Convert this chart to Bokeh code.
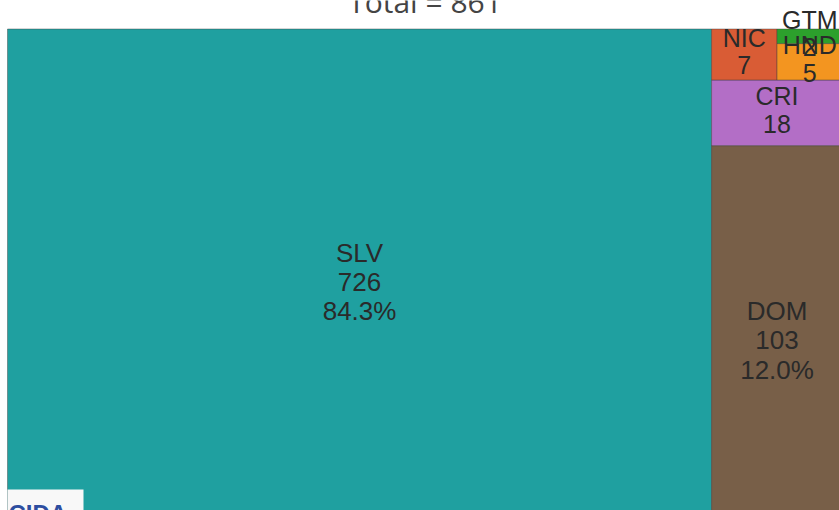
from bokeh.plotting import figure
from bokeh.models import ColumnDataSource, Range1d
from bokeh.core.properties import value
from bokeh.embed import file_html
from bokeh.resources import INLINE

# ---- data ----
categories = ["SLV", "DOM", "CRI", "NIC", "HND", "GTM"]
counts = [726, 103, 18, 7, 5, 2]
colors = ["#1fa0a0", "#785f48", "#b36ec6", "#d95c35", "#f39520", "#2ca02c"]
logo_text = "CIDA"

total = sum(counts)
title_text = f"Total = {total}"

# ---- layout geometry (figure pixel space, y downward) ----
W, H = 839, 510
TM_X0, TM_Y0, TM_W, TM_H = 7.0, 28.5, 835.0, 492.0
split_dirs = ["h", "v", "v", "h", "v"]


def layout(vals, x0, y0, x1, y1, dirs):
    out = []
    for i, v in enumerate(vals):
        rest = sum(vals[i:])
        if i == len(vals) - 1:
            out.append((x0, y0, x1, y1))
            break
        if dirs[i] == "h":
            w = (x1 - x0) * v / rest
            out.append((x0, y0, x0 + w, y1))
            x0 += w
        else:
            h = (y1 - y0) * v / rest
            out.append((x0, y1 - h, x1, y1))
            y1 -= h
    return out


rects = layout(counts, TM_X0, TM_Y0, TM_X0 + TM_W, TM_Y0 + TM_H, split_dirs)

labels, lx, ly, sizes = [], [], [], []
for c, v, (l, t, r, b) in zip(categories, counts, rects):
    share = v / total
    if share >= 0.1:
        labels.append(f"{c}\n{v}\n{share * 100:.1f}%")
        ly.append((t + b) / 2 + 7)
        sizes.append("26px")
    else:
        labels.append(f"{c}\n{v}")
        ly.append((t + b) / 2 - 3)
        sizes.append("25px")
    lx.append((l + r) / 2)

src = ColumnDataSource(dict(
    left=[r[0] for r in rects], top=[r[1] for r in rects],
    right=[r[2] for r in rects], bottom=[r[3] for r in rects],
    color=colors, label=labels, lx=lx, ly=ly, size=sizes,
))

p = figure(width=W, height=H, x_range=Range1d(0, W), y_range=Range1d(H, 0),
           output_backend="svg", toolbar_location=None, min_border=0)
p.axis.visible = False
p.grid.visible = False
p.outline_line_color = None
p.background_fill_color = "white"
p.border_fill_color = "white"

p.quad(left="left", right="right", top="top", bottom="bottom", source=src,
       fill_color="color", line_color="#3a3a3a", line_width=0.6, line_alpha=0.7)

p.text(x="lx", y="ly", text="label", source=src, text_align="center",
       text_baseline="middle", text_font=value("Liberation Sans"),
       text_font_size="size", text_color="#2a2a2a", text_line_height=0.98)

# title (partly cut off at the top edge, as in the reference)
p.text(x=[TM_X0 + TM_W / 2], y=[1], text=[title_text], text_align="center",
       text_baseline="middle", text_font=value("Open Sans"),
       text_font_size="30px", text_color="#444444")

# logo box (bottom-left)
p.quad(left=[TM_X0], right=[83], top=[489], bottom=[530],
       fill_color="#f8f8f8", line_color=None)
p.text(x=[8], y=[513], text=[logo_text], text_align="left",
       text_baseline="middle", text_font=value("Liberation Sans"),
       text_font_style="bold", text_font_size="24px", text_color="#2d4ea0")

open("out.html", "w").write(file_html(p, INLINE))
